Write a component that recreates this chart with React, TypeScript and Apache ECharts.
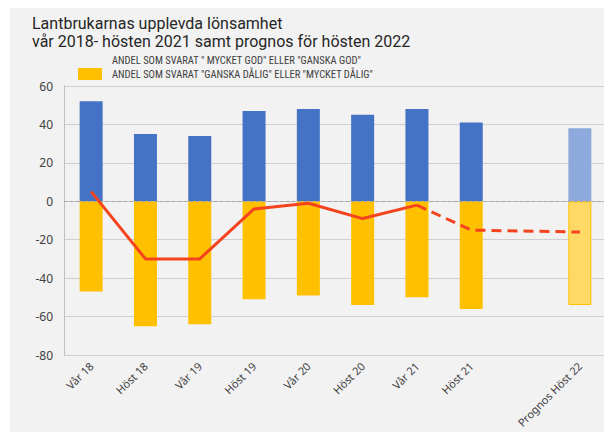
import React, { useEffect, useRef } from "react";
import * as echarts from "echarts";

const categories = ["Vår 18", "Höst 18", "Vår 19", "Höst 19", "Vår 20", "Höst 20", "Vår 21", "Höst 21", "", "Prognos Höst 22"];
const goodValues = [52, 35, 34, 47, 48, 45, 48, 41, null, 38];
const badValues = [-47, -65, -64, -51, -49, -54, -50, -56, null, -54];
const netSolid = [5, -30, -30, -4, -1, -9, -2, null, null, null];
const netDashed = [null, null, null, null, null, null, -2, -15, null, -16];
const yTicks = { min: -80, max: 60, interval: 20 };
const goodName = 'ANDEL SOM SVARAT " MYCKET GOD" ELLER "GANSKA GOD"';
const badName = 'ANDEL SOM SVARAT "GANSKA DÅLIG" ELLER "MYCKET DÅLIG"';
const titleText = "Lantbrukarnas upplevda lönsamhet\nvår 2018- hösten 2021 samt prognos för hösten 2022";

if (typeof document !== "undefined") document.body.style.margin = "0";

export default function App() {
  const ref = useRef<HTMLDivElement>(null);
  useEffect(() => {
    document.body.style.margin = "0";
    const chart = echarts.init(ref.current!, undefined, { renderer: "svg" });
    const lastIdx = categories.length - 1;
    const good = goodValues.map((v, i) =>
      i === lastIdx ? { value: v, itemStyle: { color: "#8eaadc" } } : v
    );
    const bad = badValues.map((v, i) =>
      i === lastIdx
        ? { value: v, itemStyle: { color: "#ffd966", borderColor: "#ffc000", borderWidth: 1 } }
        : v
    );
    const grid = "#cfcfcf";
    chart.setOption({
      animation: false,
      backgroundColor: "#f2f2f2",
      title: {
        text: titleText,
        left: 22,
        top: 6,
        padding: 0,
        textStyle: {
          fontFamily: "Roboto",
          fontSize: 16,
          fontWeight: "normal",
          color: "#262626",
          lineHeight: 18,
        },
      },
      legend: {
        orient: "vertical",
        left: 68,
        top: 46,
        padding: 0,
        itemWidth: 24,
        itemHeight: 12,
        itemGap: 2,
        selectedMode: false,
        textStyle: {
          fontFamily: "Liberation Sans Narrow, Roboto Condensed, Roboto",
          fontSize: 10.5,
          color: "#404040",
          padding: [0, 0, 0, 5],
        },
        data: [
          { name: goodName, itemStyle: { color: "rgba(0,0,0,0)" } },
          { name: badName, icon: "rect" },
        ],
      },
      grid: { left: 54, top: 78, width: 543, bottom: 77, containLabel: false, outerBoundsMode: "none" },
      xAxis: {
        type: "category",
        data: categories,
        axisLine: { lineStyle: { color: "#bfbfbf" } },
        axisTick: { show: false },
        axisLabel: {
          interval: 0,
          rotate: 45,
          fontFamily: "Noto Sans",
          fontSize: 11,
          color: "#404040",
          margin: 9,
        },
      },
      yAxis: {
        type: "value",
        min: yTicks.min,
        max: yTicks.max,
        interval: yTicks.interval,
        axisLine: { show: true, lineStyle: { color: "#bfbfbf" } },
        axisTick: { show: false },
        axisLabel: { fontFamily: "Noto Sans", fontSize: 12, color: "#404040", margin: 11 },
        splitLine: {
          lineStyle: {
            color: [grid, grid, grid, grid, "rgba(0,0,0,0)", grid, grid, grid],
            width: 1,
          },
        },
      },
      series: [
        {
          name: goodName,
          type: "bar",
          data: good,
          barWidth: 23,
          barGap: "-100%",
          itemStyle: { color: "#4472c4" },
          markLine: {
            silent: true,
            symbol: "none",
            label: { show: false },
            lineStyle: { color: "#a6a6a6", type: [3, 3], width: 1 },
            data: [{ yAxis: 0 }],
          },
        },
        {
          name: badName,
          type: "bar",
          data: bad,
          barWidth: 23,
          barGap: "-100%",
          itemStyle: { color: "#ffc000" },
        },
        {
          name: "net",
          type: "line",
          data: netSolid,
          symbol: "none",
          z: 5,
          lineStyle: { color: "#f4431d", width: 3 },
        },
        {
          name: "netPrognos",
          type: "line",
          data: netDashed,
          connectNulls: true,
          symbol: "none",
          z: 5,
          lineStyle: { color: "#f4431d", width: 3, type: [10, 6] },
        },
      ],
    });
    return () => chart.dispose();
  }, []);
  return (
    <div
      style={{
        width: 604,
        height: 432,
        background: "#ffffff",
        paddingLeft: 10,
        paddingTop: 8,
        boxSizing: "border-box",
        overflow: "hidden",
      }}
    >
      <div ref={ref} style={{ width: 594, height: 424 }} />
    </div>
  );
}
